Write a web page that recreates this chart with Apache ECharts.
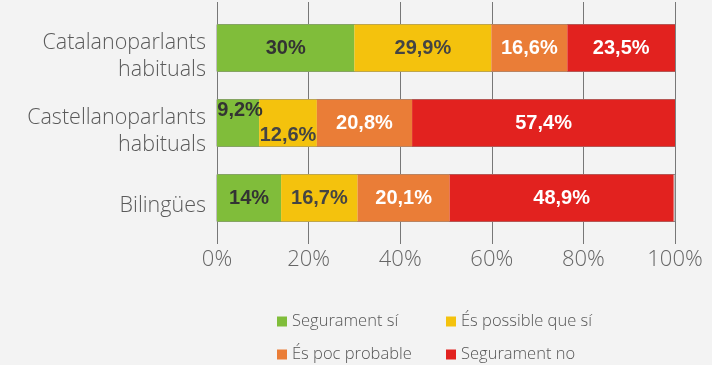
<!DOCTYPE html>
<html><head><meta charset="utf-8">
<script src="https://cdn.jsdelivr.net/npm/echarts@6/dist/echarts.min.js"></script>
<style>html,body{margin:0;padding:0;background:#f3f3f3}#c{width:712px;height:365px}</style>
</head><body><div id="c"></div>
<script>
const categories = ['Catalanoparlants\nhabituals', 'Castellanoparlants\nhabituals', 'Bilingües'];
const seriesNames = ['Segurament sí', 'És possible que sí', 'És poc probable', 'Segurament no'];
const segSi = [30, 9.2, 14];
const possible = [29.9, 12.6, 16.7];
const pocProbable = [16.6, 20.8, 20.1];
const segNo = [23.5, 57.4, 48.9];
const tickLabels = ['0%', '20%', '40%', '60%', '80%', '100%'];

const colors = ['#80bd3a', '#f4c20d', '#ea7d37', '#e2221f'];
const labelColors = ['#333333', '#444444', '#ffffff', '#ffffff'];
const values = [segSi, possible, pocProbable, segNo];
const offsets = [[null, [2, -13], null], [null, [0, 12], null], [null, null, null], [null, null, null]];

const chart = echarts.init(document.getElementById('c'));
const series = values.map((arr, s) => ({
  name: seriesNames[s], type: 'bar', stack: 'total', xAxisIndex: 1, yAxisIndex: 1,
  barWidth: 47,
  itemStyle: { color: colors[s] },
  showBackground: s === 0,
  backgroundStyle: { color: 'rgba(0,0,0,0)', borderColor: '#8a8a8a', borderWidth: 1 },
  label: {
    show: true, position: 'inside', color: labelColors[s],
    fontFamily: 'Liberation Sans', fontWeight: 'bold', fontSize: 20,
    formatter: p => String(p.value).replace('.', ',') + '%'
  },
  data: arr.map((v, i) => offsets[s][i] ? { value: v, label: { offset: offsets[s][i] } } : v)
}));

const legendText = { color: '#555', fontSize: 16.5, fontFamily: 'Open Sans', fontWeight: 300 };
const legPos = [[272, 308], [441, 308], [272, 341], [441, 341]];
const legends = seriesNames.map((n, i) => ({
  data: [n], left: legPos[i][0], top: legPos[i][1],
  icon: 'rect', itemWidth: 10, itemHeight: 10, itemGap: 8, textStyle: legendText
}));

chart.setOption({
  backgroundColor: '#f3f3f3',
  animation: false,
  grid: [
    { left: 217, right: 37, top: 2, bottom: 121 },
    { left: 217, right: 37, top: 10.5, height: 225 },
    { left: 217, right: 37, top: 18.5, height: 225 }
  ],
  xAxis: [
    { gridIndex: 0, type: 'value', min: 0, max: 100, interval: 20,
      axisLine: { show: false }, axisTick: { show: false },
      splitLine: { show: true, lineStyle: { color: '#777', width: 1 } },
      axisLabel: { color: '#666', fontSize: 22, fontFamily: 'Open Sans', fontWeight: 300, margin: 5,
        formatter: (v) => tickLabels[v / 20] } },
    { gridIndex: 1, type: 'value', min: 0, max: 100, show: false },
    { gridIndex: 2, type: 'value', min: 0, max: 100, show: false }
  ],
  yAxis: [
    { gridIndex: 0, type: 'value', show: false },
    { gridIndex: 1, type: 'category', inverse: true, data: categories,
      axisLine: { show: false }, axisTick: { show: false }, axisLabel: { show: false } },
    { gridIndex: 2, type: 'category', inverse: true, data: categories,
      axisLine: { show: false }, axisTick: { show: false }, splitLine: { show: false },
      axisLabel: { color: '#5a5a5a', fontSize: 21.5, fontFamily: 'Open Sans', fontWeight: 300,
        lineHeight: 27, margin: 11, align: 'right' } }
  ],
  legend: legends,
  series: series
});
</script></body></html>
